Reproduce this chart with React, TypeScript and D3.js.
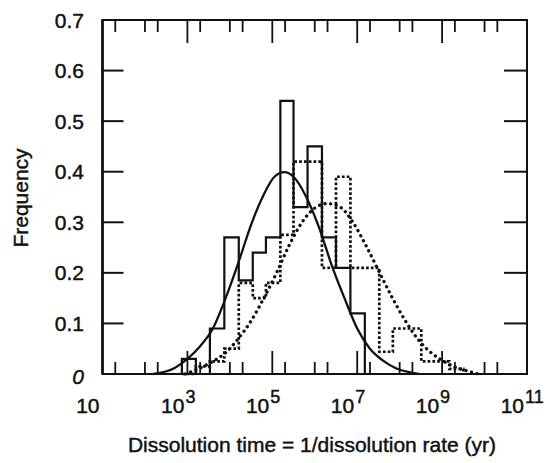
import React from "react";
import * as d3 from "d3";

// ---- data (x values are log10 of dissolution time in years) ----
const binEdges = [2.87, 3.2, 3.53, 3.87, 4.21, 4.54, 4.85, 5.19, 5.5, 5.83, 6.17, 6.5, 6.84, 7.18, 7.52, 7.84, 8.18, 8.51, 8.84, 9.17, 9.5];
const solidFreq = [0.03, 0, 0.09, 0.27, 0.185, 0.24, 0.27, 0.54, 0.33, 0.45, 0.27, 0.21, 0.12];
const dottedFreq = [0, 0.015, 0.025, 0.05, 0.18, 0.15, 0.18, 0.275, 0.42, 0.42, 0.21, 0.39, 0.21, 0.21, 0.044, 0.09, 0.09, 0.025, 0.025, 0.01];

const solidCurveX = [2.2, 2.7, 3.0, 3.3, 3.6, 3.9, 4.2, 4.5, 4.8, 5.05, 5.28, 5.5, 5.8, 6.1, 6.4, 6.7, 7.0, 7.3, 7.6, 7.9, 8.2, 8.45];
const solidCurveY = [0.0, 0.012, 0.03, 0.055, 0.09, 0.15, 0.22, 0.295, 0.355, 0.39, 0.399, 0.39, 0.35, 0.29, 0.215, 0.15, 0.09, 0.05, 0.027, 0.012, 0.004, 0.0];

const dottedCurveX = [2.95, 3.3, 3.6, 3.9, 4.2, 4.5, 4.8, 5.1, 5.4, 5.7, 6.0, 6.3, 6.6, 6.9, 7.2, 7.5, 7.8, 8.1, 8.4, 8.7, 9.0, 9.3, 9.6, 9.85];
const dottedCurveY = [0.0, 0.012, 0.025, 0.042, 0.07, 0.105, 0.15, 0.2, 0.255, 0.3, 0.328, 0.337, 0.33, 0.3, 0.255, 0.205, 0.155, 0.11, 0.072, 0.045, 0.027, 0.014, 0.006, 0.0];

const yTickValues = [0, 0.1, 0.2, 0.3, 0.4, 0.5, 0.6, 0.7];
const yTickLabels = ["0", "0.1", "0.2", "0.3", "0.4", "0.5", "0.6", "0.7"];
const xLabelExponents = [1, 3, 5, 7, 9, 11];
const xLongTickExponents = [3, 5, 7, 9];

const xTitle = "Dissolution time = 1/dissolution rate (yr)";
const yTitle = "Frequency";

// ---- layout ----
const W = 556;
const H = 463;
const L = 102.5;
const R = 527;
const T = 20;
const B = 374;
const FONT = "'Liberation Sans', Arial, Helvetica, sans-serif";
const INK = "#111";
const TEXT_STROKE = 0.45;

export default function App() {
  const x = d3.scaleLinear().domain([1, 11]).range([L, R]);
  const y = d3.scaleLinear().domain([0, 0.7]).range([B, T]);

  const histPath = (vals: number[]) => {
    let last = vals.length - 1;
    while (last > 0 && vals[last] === 0) last--;
    const pts: [number, number][] = [[binEdges[0], 0]];
    for (let i = 0; i <= last; i++) pts.push([binEdges[i], vals[i]]);
    pts.push([binEdges[last + 1], 0]);
    return d3
      .line<[number, number]>()
      .x((d) => x(d[0]))
      .y((d) => y(d[1]))
      .curve(d3.curveStepAfter)(pts) as string;
  };

  const curvePath = (xs: number[], ys: number[]) =>
    d3
      .line<number>()
      .x((_, i) => x(xs[i]))
      .y((d) => y(d))
      .curve(d3.curveMonotoneX)(ys) as string;

  // ticks at 10^n and 2*10^n
  const xTicks: { v: number; long: boolean }[] = [];
  for (let n = 1; n <= 10; n++) {
    if (n > 1) xTicks.push({ v: n, long: xLongTickExponents.includes(n) });
    xTicks.push({ v: n + Math.log10(2), long: false });
  }

  const textProps = {
    fontFamily: FONT,
    fill: INK,
    stroke: INK,
    strokeWidth: TEXT_STROKE,
  };

  return (
    <svg
      width={W}
      height={H}
      viewBox={`0 0 ${W} ${H}`}
      style={{ position: "absolute", left: 0, top: 0, background: "#fff" }}
    >
      <rect x={0} y={0} width={W} height={H} fill="#fff" />

      {/* histograms */}
      <path d={histPath(solidFreq)} fill="none" stroke={INK} strokeWidth={2.2} />
      <path d={histPath(dottedFreq)} fill="none" stroke={INK} strokeWidth={2.7} strokeDasharray="2.7 2.1" />

      {/* fitted curves */}
      <path d={curvePath(solidCurveX, solidCurveY)} fill="none" stroke={INK} strokeWidth={2.3} />
      <path
        d={curvePath(dottedCurveX, dottedCurveY)}
        fill="none"
        stroke={INK}
        strokeWidth={3.3}
        strokeLinecap="round"
        strokeDasharray="0.1 5.6"
      />

      {/* frame */}
      <rect x={L} y={T} width={R - L} height={B - T} fill="none" stroke={INK} strokeWidth={2} />
      <line x1={L} x2={L} y1={T} y2={B} stroke={INK} strokeWidth={2.6} />

      {/* y ticks */}
      {yTickValues.slice(1, -1).map((v) => (
        <g key={"yt" + v}>
          <line x1={L} x2={L + 21} y1={y(v)} y2={y(v)} stroke={INK} strokeWidth={2} />
          <line x1={R} x2={R - 23} y1={y(v)} y2={y(v)} stroke={INK} strokeWidth={2} />
        </g>
      ))}

      {/* x ticks top & bottom */}
      {xTicks.map((t) => {
        const len = t.long ? 23 : 12;
        return (
          <g key={"xt" + t.v}>
            <line x1={x(t.v)} x2={x(t.v)} y1={T} y2={T + len} stroke={INK} strokeWidth={1.8} />
            <line x1={x(t.v)} x2={x(t.v)} y1={B} y2={B - len} stroke={INK} strokeWidth={1.8} />
          </g>
        );
      })}

      {/* y tick labels */}
      {yTickValues.map((v, i) => (
        <text
          key={"yl" + v}
          x={84}
          y={y(v) + (i === 0 ? 10 : 7.5)}
          textAnchor="end"
          fontSize={21}
          fontStyle={i === 0 ? "italic" : "normal"}
          {...textProps}
        >
          {yTickLabels[i]}
        </text>
      ))}

      {/* x tick labels */}
      {xLabelExponents.map((e) => (
        <g key={"xl" + e}>
          <text x={x(e) - 3} y={413} textAnchor="end" fontSize={21} {...textProps}>
            10
          </text>
          {e !== 1 && (
            <text x={x(e) - 2} y={403} textAnchor="start" fontSize={18} {...textProps}>
              {e}
            </text>
          )}
        </g>
      ))}

      {/* axis titles */}
      <text x={312} y={452} textAnchor="middle" fontSize={21} {...textProps}>
        {xTitle}
      </text>
      <text transform={`translate(28, 198) rotate(-90)`} textAnchor="middle" fontSize={21} {...textProps}>
        {yTitle}
      </text>
    </svg>
  );
}
